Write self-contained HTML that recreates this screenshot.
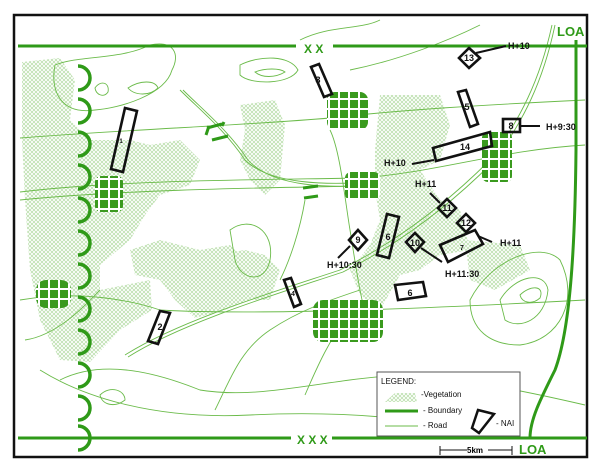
<!DOCTYPE html>
<html><head><meta charset="utf-8"><style>
body{margin:0;background:#fff}
svg{display:block}
text{font-family:"Liberation Sans",sans-serif}
</style></head><body>
<svg width="600" height="472" viewBox="0 0 600 472" xmlns="http://www.w3.org/2000/svg">
<defs>
<pattern id="veg" width="4" height="4" patternUnits="userSpaceOnUse">
<rect width="4" height="4" fill="#fff"/>
<path d="M0 0L4 4M4 0L0 4" stroke="#b5dca6" stroke-width="0.7"/>
</pattern>
<pattern id="town" width="10" height="10" patternUnits="userSpaceOnUse">
<rect width="10" height="10" fill="#fff"/>
<rect width="8" height="8" fill="#3a9a1e"/>
</pattern>
</defs>
<rect x="14" y="15" width="573" height="442" fill="#fff" stroke="#111" stroke-width="2.5"/>
<g fill="url(#veg)">
<path d="M22 62 L60 58 L75 80 L70 120 L90 140 L130 140 L150 145 L180 140 L200 160 L190 185 L160 195 L145 215 L130 240 L100 265 L100 290 L150 280 L152 310 L120 330 L90 362 L60 360 L40 320 L30 270 L25 200 L22 140Z"/>
<path d="M130 250 L160 240 L200 250 L230 245 L245 260 L260 280 L250 300 L225 310 L195 318 L175 300 L160 280 L135 275Z"/>
<path d="M240 105 L275 100 L285 125 L280 180 L265 195 L250 180 L240 160 L245 130Z"/>
<path d="M380 95 L440 95 L450 125 L440 160 L420 170 L440 200 L460 210 L470 250 L440 255 L420 270 L400 275 L380 310 L360 295 L350 270 L370 245 L380 220 L375 190 L375 150Z"/>
<path d="M210 255 L245 250 L265 255 L280 270 L270 300 L240 300 L220 290Z"/>
<path d="M465 240 L520 245 L530 270 L495 290 L470 280Z"/>
</g>
<g fill="none" stroke="#6bbb4a" stroke-width="0.9">
<path d="M55 65 C80 55 120 60 150 45 C175 40 180 55 172 70 C165 95 120 108 95 110 C60 115 50 90 55 65Z"/>
<path d="M95 88 C100 80 110 82 108 92 C104 98 96 95 95 88Z"/>
<path d="M128 88 C140 80 155 80 158 88 C150 96 135 96 128 88Z"/>
<path d="M240 65 C260 55 290 55 298 70 C290 85 250 85 240 75Z"/>
<path d="M255 72 C265 68 280 68 285 72 C275 78 262 78 255 72Z"/>
<path d="M20 138 C120 130 250 125 330 118 C400 110 480 105 585 100"/>
<path d="M20 192 C120 180 250 180 360 178 C440 172 500 150 585 145"/>
<path d="M20 200 C120 190 250 188 360 186"/>
<path d="M20 300 C80 290 130 300 160 310 C250 315 400 310 585 300"/>
<path d="M125 355 C180 320 280 290 340 270 C400 240 450 200 490 160 C520 120 540 80 552 25"/>
<path d="M128 357 C183 322 283 292 343 272 C403 242 453 202 493 162 C523 122 543 82 555 25"/>
<path d="M180 90 C200 110 225 130 245 160 C270 185 330 185 370 182"/>
<path d="M183 90 C203 110 228 130 248 160 C273 188 333 188 372 185"/>
<path d="M305 200 C300 230 290 260 280 280"/>
<path d="M215 410 C230 380 240 350 270 330 C300 310 330 300 360 290"/>
<path d="M330 130 C340 150 345 200 350 230 C355 260 360 300 370 330"/>
<path d="M305 395 C320 360 330 340 345 320"/>
<path d="M40 370 C80 395 150 420 250 415 C350 410 420 420 480 430"/>
<path d="M60 380 C100 360 150 370 200 390 C260 400 320 380 400 375"/>
<path d="M100 395 C110 385 125 390 125 400 C115 408 102 405 100 395Z"/>
<path d="M470 300 C490 260 540 240 560 260 C580 300 560 340 520 345 C490 345 470 330 470 300Z"/>
<path d="M500 300 C515 275 545 270 548 290 C545 320 520 330 505 320Z"/>
<path d="M520 295 C530 285 545 285 540 298 C532 305 522 303 520 295Z"/>
<path d="M230 230 C250 215 275 230 270 260 C265 285 240 280 235 260Z"/>
<path d="M300 40 C330 25 360 30 380 20"/>
<path d="M350 70 C400 60 450 40 480 25"/>
<path d="M430 380 C470 380 520 390 585 405"/>
<path d="M25 340 C60 335 90 300 100 290"/>
</g>
<g fill="url(#town)">
<rect x="95" y="176" width="28" height="36" rx="6"/>
<rect x="327" y="92" width="41" height="38" rx="8"/>
<rect x="345" y="172" width="35" height="28" rx="6"/>
<rect x="482" y="132" width="30" height="50" rx="6"/>
<rect x="313" y="300" width="70" height="42" rx="10"/>
<rect x="36" y="280" width="35" height="28" rx="10"/>
</g>
<g stroke="#2f9a18" stroke-width="3" fill="none">
<line x1="18" y1="46" x2="296" y2="46"/>
<line x1="333" y1="46" x2="587" y2="46"/>
<line x1="18" y1="438" x2="291" y2="438"/>
<line x1="332" y1="438" x2="587" y2="438"/>
<path d="M576 40 L576 150 C575 250 570 330 555 370 C540 400 530 420 530 438"/>
<path d="M207 128 L222 124 M206 135 L209 126 M224 122 L222 126 M212 140 L228 136"/>
<path d="M303 188 L318 186 M304 198 L318 196"/>
</g>
<g stroke="#2f9a18" stroke-width="3.5" fill="none">
<path d="M78 66 a12 12 0 0 1 0 24"/><path d="M78 99 a12 12 0 0 1 0 24"/><path d="M78 132 a12 12 0 0 1 0 24"/>
<path d="M78 165 a12 12 0 0 1 0 24"/><path d="M78 198 a12 12 0 0 1 0 24"/><path d="M78 231 a12 12 0 0 1 0 24"/>
<path d="M78 264 a12 12 0 0 1 0 24"/><path d="M78 297 a12 12 0 0 1 0 24"/><path d="M78 330 a12 12 0 0 1 0 24"/>
<path d="M78 363 a12 12 0 0 1 0 24"/><path d="M78 396 a12 12 0 0 1 0 24"/><path d="M78 426 a12 12 0 0 1 0 24"/>
</g>
<g fill="#2f9a18" font-weight="bold">
<text x="304" y="53" font-size="12">X X</text>
<text x="297" y="444" font-size="12">X X X</text>
<text x="557" y="36" font-size="13">LOA</text>
<text x="519" y="454" font-size="13">LOA</text>
</g>
<g fill="none" stroke="#111" stroke-width="2.6">
<polygon points="125,108 137,111 123,172 111,169"/>
<polygon points="160,311 170,313 158,344 148,341"/>
<polygon points="311,67 319,64 332,94 324,97"/>
<polygon points="284,280 291,278 301,304 294,307"/>
<polygon points="458,92 466,90 478,124 470,127"/>
<polygon points="387,214 399,217 389,258 377,255"/>
<polygon points="395,285 423,282 426,296 398,300"/>
<polygon points="440,245 475,230 483,244 448,262"/>
<rect x="503" y="119" width="17" height="13"/>
<polygon points="433,148 490,132 492,146 436,161"/>
<polygon points="469,48 480,58 469,68 459,58"/>
<polygon points="358,230 367,240 358,250 349,240"/>
<polygon points="415,233 424,242 415,252 406,242"/>
<polygon points="447,199 456,208 447,217 438,208"/>
<polygon points="466,214 475,223 466,232 457,223"/>
</g>
<g stroke="#111" stroke-width="2">
<line x1="476" y1="53" x2="506" y2="46"/>
<line x1="520" y1="126" x2="540" y2="126"/>
<line x1="434" y1="160" x2="412" y2="164"/>
<line x1="350" y1="246" x2="338" y2="258"/>
<line x1="440" y1="203" x2="430" y2="193"/>
<line x1="421" y1="248" x2="442" y2="262"/>
<line x1="478" y1="236" x2="492" y2="242"/>
</g>
<g font-size="9" font-weight="bold" fill="#111" text-anchor="middle">
<text x="121" y="143" font-size="6">1</text><text x="160" y="330">2</text><text x="318" y="83">3</text>
<text x="293" y="296" font-size="7">4</text><text x="467" y="110">5</text><text x="388" y="240">6</text>
<text x="410" y="296">6</text><text x="462" y="250" font-size="7">7</text><text x="511" y="129">8</text>
<text x="358" y="243">9</text><text x="415" y="246">10</text><text x="447" y="211">11</text>
<text x="466" y="226">12</text><text x="469" y="61">13</text><text x="465" y="150">14</text>
</g>
<g font-size="9" font-weight="bold" fill="#111">
<text x="508" y="49">H+10</text><text x="546" y="130">H+9:30</text><text x="384" y="166">H+10</text>
<text x="415" y="187">H+11</text><text x="327" y="268">H+10:30</text><text x="500" y="246">H+11</text>
<text x="445" y="277">H+11:30</text>
</g>
<rect x="377" y="372" width="143" height="64" fill="#fff" stroke="#555" stroke-width="1"/>
<g font-size="8" fill="#111">
<text x="381" y="384">LEGEND:</text>
<text x="421" y="397">-Vegetation</text>
<text x="423" y="413">- Boundary</text>
<text x="423" y="428">- Road</text>
<text x="496" y="426">- NAI</text>
</g>
<path d="M385 402 L395 393 L415 393 L417 402Z" fill="url(#veg)"/>
<line x1="385" y1="411" x2="418" y2="411" stroke="#2f9a18" stroke-width="3"/>
<line x1="385" y1="426" x2="418" y2="426" stroke="#6bbb4a" stroke-width="1"/>
<polygon points="478,410 494,414 479,433 472,428" fill="none" stroke="#111" stroke-width="2.5"/>
<g stroke="#111" stroke-width="1"><line x1="440" y1="450" x2="467" y2="450"/><line x1="440" y1="446" x2="440" y2="455"/><line x1="488" y1="450" x2="512" y2="450"/><line x1="512" y1="446" x2="512" y2="455"/></g>
<text x="467" y="453" font-size="8" font-weight="bold">5km</text>
</svg>
</body></html>
